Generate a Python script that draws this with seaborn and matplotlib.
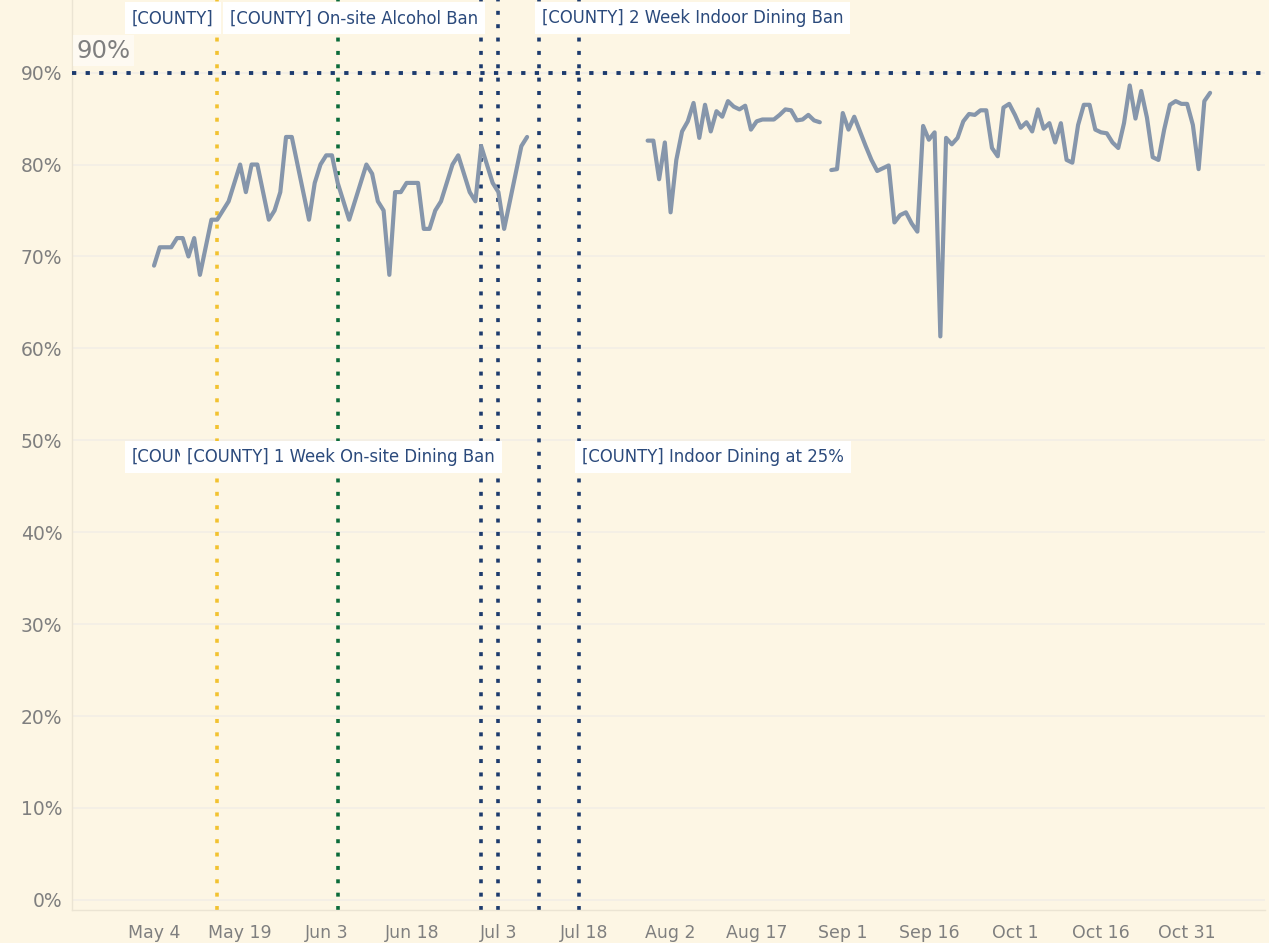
import numpy as np
import pandas as pd
import matplotlib
matplotlib.use("Agg")
import matplotlib.pyplot as plt
import matplotlib.dates as mdates
import seaborn as sns

# ---------------------------------
# Data
# ---------------------------------

segment_starts = ["2020-05-04", "2020-07-29", "2020-08-30"]

seg1_values = [69, 71, 71, 71, 72, 72, 70, 72, 68, 71, 74, 74, 75, 76, 78, 80, 77, 80, 80, 77,
               74, 75, 77, 83, 83, 80, 77, 74, 78, 80, 81, 81, 78, 76, 74, 76, 78, 80, 79, 76,
               75, 68, 77, 77, 78, 78, 78, 73, 73, 75, 76, 78, 80, 81, 79, 77, 76, 82, 80, 78,
               77, 73, 76, 79, 82, 83]

seg2_values = [82.6, 82.6, 78.4, 82.4, 74.8, 80.5, 83.6, 84.7, 86.7, 82.9,
               86.5, 83.6, 85.8, 85.2, 86.9, 86.3, 86.0, 86.4, 83.8, 84.7,
               84.9, 84.9, 84.9, 85.4, 86.0, 85.9, 84.8, 84.9, 85.4, 84.8,
               84.6]

seg3_values = [79.4, 79.5, 85.6, 83.8, 85.2, 83.6, 82.0, 80.5, 79.3, 79.6,
               79.9, 73.7, 74.5, 74.8, 73.6, 72.7, 84.2, 82.7, 83.5, 61.3,
               82.9, 82.2, 82.9, 84.7, 85.5, 85.4, 85.9, 85.9, 81.8, 80.9,
               86.2, 86.6, 85.4, 84.0, 84.6, 83.6, 86.0, 83.9, 84.5, 82.4,
               84.5, 80.5, 80.2, 84.3, 86.5, 86.5, 83.8, 83.5, 83.4, 82.4,
               81.8, 84.5, 88.6, 85.0, 88.0, 85.1, 80.8, 80.5, 83.8, 86.5,
               86.9, 86.6, 86.6, 84.3, 79.5, 86.9, 87.8]

target = 90

event_dates = ["2020-05-15", "2020-06-05", "2020-06-30", "2020-07-03", "2020-07-10", "2020-07-17"]
event_colors = ["#f2c230", "#0b6b3a", "#1d3b6e", "#1d3b6e", "#1d3b6e", "#1d3b6e"]

# (text, anchor event, side)
top_labels = [("[COUNTY]", "2020-05-15", "right"),
              ("[COUNTY] On-site Alcohol Ban", "2020-06-30", "right"),
              ("[COUNTY] 2 Week Indoor Dining Ban", "2020-07-10", "left")]
bottom_labels = [("[COUNTY]", "2020-05-15", "right"),
                 ("[COUNTY] 1 Week On-site Dining Ban", "2020-07-03", "right"),
                 ("[COUNTY] Indoor Dining at 25%", "2020-07-17", "left")]

tick_dates = pd.date_range("2020-05-04", "2020-10-31", freq="15D")
y_ticks = list(range(0, 100, 10))

# ---------------------------------
# Build long table
# ---------------------------------

frames = []
for i, (start, vals) in enumerate(zip(segment_starts, [seg1_values, seg2_values, seg3_values])):
    frames.append(pd.DataFrame({
        "date": pd.date_range(start, periods=len(vals), freq="D"),
        "rate": vals,
        "segment": i,
    }))
df = pd.concat(frames, ignore_index=True)

# ---------------------------------
# Plot
# ---------------------------------

bg = "#fdf6e4"
sns.set_style("white")
plt.rcParams["font.family"] = ["DejaVu Sans"]

fig = plt.figure(figsize=(12.69, 9.43), dpi=100, facecolor=bg)
ax = fig.add_axes([0.0567, 0.035, 0.9403, 0.965])
ax.set_facecolor(bg)

sns.lineplot(data=df, x="date", y="rate", units="segment", estimator=None,
             color="#8696ab", linewidth=3.0, ax=ax, zorder=4)

# event lines
for d, c in zip(event_dates, event_colors):
    ax.axvline(pd.Timestamp(d), color=c, linewidth=2.6, linestyle=(0, (1.1, 2.6)), zorder=2)

# target line
ax.axhline(target, color="#1d3b6e", linewidth=2.8, linestyle=(0, (1.1, 2.4)), zorder=3)
ax.text(0.004, target + 1.1, "90%", transform=ax.get_yaxis_transform(),
        fontsize=17.5, color="#7f7f7f", va="bottom", ha="left", zorder=6,
        bbox=dict(boxstyle="square,pad=0.15", fc="white", ec="none", alpha=0.55))

# event annotations
def add_labels(labels, y):
    for k, (txt, d, side) in enumerate(labels):
        off = -2.5 if side == "right" else 2.5
        ax.annotate(txt, xy=(pd.Timestamp(d), y), xytext=(off, 0),
                    textcoords="offset points", ha=side, va="center",
                    fontsize=11.9, color="#2b4a7c", zorder=10 + k,
                    bbox=dict(boxstyle="square,pad=0.42", fc="white", ec="none"))

add_labels(top_labels, 95.9)
add_labels(bottom_labels, 48.2)

# axes
x0 = mdates.date2num(pd.Timestamp("2020-05-04"))
ax.set_xlim(x0 - 14.3, x0 + 193.6)
ax.set_ylim(-1.1, 97.9)

ax.set_xticks(tick_dates)
ax.set_xticklabels([f"{d:%b} {d.day}" for d in tick_dates])
ax.set_yticks(y_ticks)
ax.set_yticklabels([f"{v}%" for v in y_ticks])
ax.tick_params(axis="x", colors="#ebe4d3", length=6, width=1, pad=4, labelsize=12.5, labelcolor="#7f7f7f")
ax.tick_params(axis="y", length=0, pad=7, labelsize=13.5, labelcolor="#7f7f7f")

ax.grid(axis="y", color="#f3eee6", linewidth=1.2)
ax.grid(axis="x", visible=False)
ax.set_xlabel("")
ax.set_ylabel("")
for side in ["top", "right"]:
    ax.spines[side].set_visible(False)
for side in ["left", "bottom"]:
    ax.spines[side].set_color("#ebe4d3")
    ax.spines[side].set_linewidth(1)

fig.savefig("out.png", dpi=100, facecolor=bg)
